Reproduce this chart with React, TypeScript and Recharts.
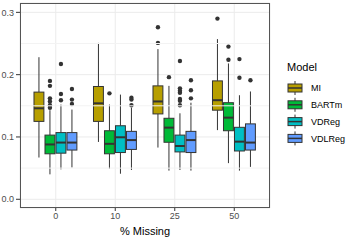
import { ComposedChart, Bar, XAxis, YAxis, CartesianGrid, Label, ReferenceLine } from 'recharts'

const categories = ['0', '10', '25', '50']
const models = ['MI', 'BARTm', 'VDReg', 'VDLReg']
const colors = ['#B79F00', '#00BA38', '#00BFC4', '#619CFF']

// [lower whisker, q1, median, q3, upper whisker] for each % missing
const miStats = [
  [0.067, 0.125, 0.146, 0.172, 0.228],
  [0.092, 0.125, 0.154, 0.181, 0.251],
  [0.083, 0.137, 0.157, 0.182, 0.241],
  [0.111, 0.143, 0.159, 0.19, 0.257],
]
const bartStats = [
  [0.04, 0.073, 0.088, 0.103, 0.143],
  [0.049, 0.073, 0.089, 0.11, 0.152],
  [0.046, 0.0915, 0.115, 0.13, 0.182],
  [0.058, 0.11, 0.131, 0.155, 0.218],
]
const vdStats = [
  [0.048, 0.074, 0.091, 0.107, 0.152],
  [0.041, 0.075, 0.0995, 0.118, 0.168],
  [0.047, 0.076, 0.0855, 0.103, 0.138],
  [0.046, 0.0775, 0.0925, 0.1155, 0.167],
]
const vdlStats = [
  [0.051, 0.079, 0.091, 0.107, 0.144],
  [0.047, 0.08, 0.095, 0.109, 0.147],
  [0.046, 0.075, 0.095, 0.109, 0.155],
  [0.052, 0.079, 0.091, 0.121, 0.173],
]

const miOutliers = [[], [], [0.276, 0.251], [0.29]]
const bartOutliers = [
  [0.19, 0.182, 0.162, 0.157, 0.151, 0.147],
  [0.17],
  [0.196],
  [0.245, 0.224],
]
const vdOutliers = [
  [0.217, 0.169, 0.159],
  [],
  [0.222, 0.178, 0.174, 0.171, 0.161, 0.158, 0.151],
  [0.225, 0.195],
]
const vdlOutliers = [
  [0.177, 0.16, 0.153],
  [0.163, 0.16, 0.151],
  [0.191, 0.175, 0.162],
  [0.191],
]

const yTicks = [0, 0.1, 0.2, 0.3]
const yMinor = [0.05, 0.15, 0.25]

const statsByModel = [miStats, bartStats, vdStats, vdlStats]
const outliersByModel = [miOutliers, bartOutliers, vdOutliers, vdlOutliers]

const data = categories.map((pct, i) => {
  const row: Record<string, any> = { pct }
  models.forEach((m, j) => {
    const s = statsByModel[j][i]
    row[m] = [s[0], s[4]]
    row[m + '_s'] = s
    row[m + '_o'] = outliersByModel[j][i]
  })
  return row
})

const ink = '#333333'

function BoxShape(props: any) {
  const { x, y, width, height, payload, fill, model } = props
  const s = payload[model + '_s']
  const out: number[] = payload[model + '_o']
  const lo = s[0]
  const hi = s[4]
  // map a value through the bar's own pixel range
  const py = (v: number) => y + ((hi - v) / (hi - lo)) * height
  const w = width * 0.9
  const bx = x + (width - w) / 2
  const cx = x + width / 2
  return (
    <g>
      <line x1={cx} x2={cx} y1={py(s[4])} y2={py(s[3])} stroke={ink} strokeWidth={1} />
      <line x1={cx} x2={cx} y1={py(s[1])} y2={py(s[0])} stroke={ink} strokeWidth={1} />
      <rect
        x={bx}
        y={py(s[3])}
        width={w}
        height={py(s[1]) - py(s[3])}
        fill={fill}
        stroke={ink}
        strokeWidth={1}
      />
      <line x1={bx} x2={bx + w} y1={py(s[2])} y2={py(s[2])} stroke={ink} strokeWidth={2} />
      {out.map((o, k) => (
        <circle key={k} cx={cx} cy={py(o)} r={2.2} fill={ink} />
      ))}
    </g>
  )
}

function LegendKey({ color, y }: { color: string; y: number }) {
  return (
    <g>
      <line x1={8} x2={8} y1={y - 7} y2={y + 7} stroke={ink} strokeWidth={1} />
      <rect x={1} y={y - 4} width={14} height={8} fill={color} stroke={ink} strokeWidth={1} />
      <line x1={1} x2={15} y1={y} y2={y} stroke={ink} strokeWidth={1.5} />
    </g>
  )
}

export default function App() {
  const font = '"Liberation Sans", Arial, sans-serif'
  return (
    <div style={{ position: 'absolute', left: 0, top: 0, width: 358, height: 242, background: '#fff', fontFamily: font }}>
      <ComposedChart
        width={358}
        height={242}
        data={data}
        margin={{ top: 3, right: 88, bottom: 4, left: 0 }}
        barCategoryGap="12.5%"
        barGap={0}
      >
        <CartesianGrid stroke="#EBEBEB" />
        {yMinor.map((v) => (
          <ReferenceLine key={v} y={v} stroke="#F3F3F3" />
        ))}
        <XAxis
          dataKey="pct"
          padding={{ left: 6, right: 6 }}
          height={30}
          tickSize={3}
          tickMargin={2}
          axisLine={false}
          tickLine={{ stroke: ink }}
          tick={{ fill: '#4D4D4D', fontSize: 9, fontFamily: font }}
        >
          <Label value="% Missing" position="insideBottom" offset={3} fill="#000" fontSize={11} fontFamily={font} />
        </XAxis>
        <YAxis
          type="number"
          domain={[-0.014, 0.315]}
          allowDataOverflow
          ticks={yTicks}
          width={20}
          tickSize={4}
          tickMargin={2}
          axisLine={false}
          tickLine={{ stroke: ink }}
          tick={{ fill: '#4D4D4D', fontSize: 9, fontFamily: font }}
          tickFormatter={(v: number) => v.toFixed(1)}
        />
        {models.map((m, j) => (
          <Bar
            key={m}
            dataKey={m}
            fill={colors[j]}
            isAnimationActive={false}
            shape={(p: any) => <BoxShape {...p} model={m} />}
          />
        ))}
      </ComposedChart>
      <div
        style={{
          position: 'absolute',
          left: 20,
          top: 3,
          width: 250,
          height: 205,
          boxSizing: 'border-box',
          border: '1px solid #555',
          pointerEvents: 'none',
        }}
      />
      <svg style={{ position: 'absolute', left: 287, top: 55 }} width={71} height={95}>
        <text x={0} y={16} fontSize={11} fill="#000" fontFamily={font}>
          Model
        </text>
        {models.map((m, j) => (
          <g key={m}>
            <LegendKey color={colors[j]} y={33 + j * 16.8} />
            <text x={24} y={33 + j * 16.8} dy="0.35em" fontSize={9} fill="#000" fontFamily={font}>
              {m}
            </text>
          </g>
        ))}
      </svg>
    </div>
  )
}
